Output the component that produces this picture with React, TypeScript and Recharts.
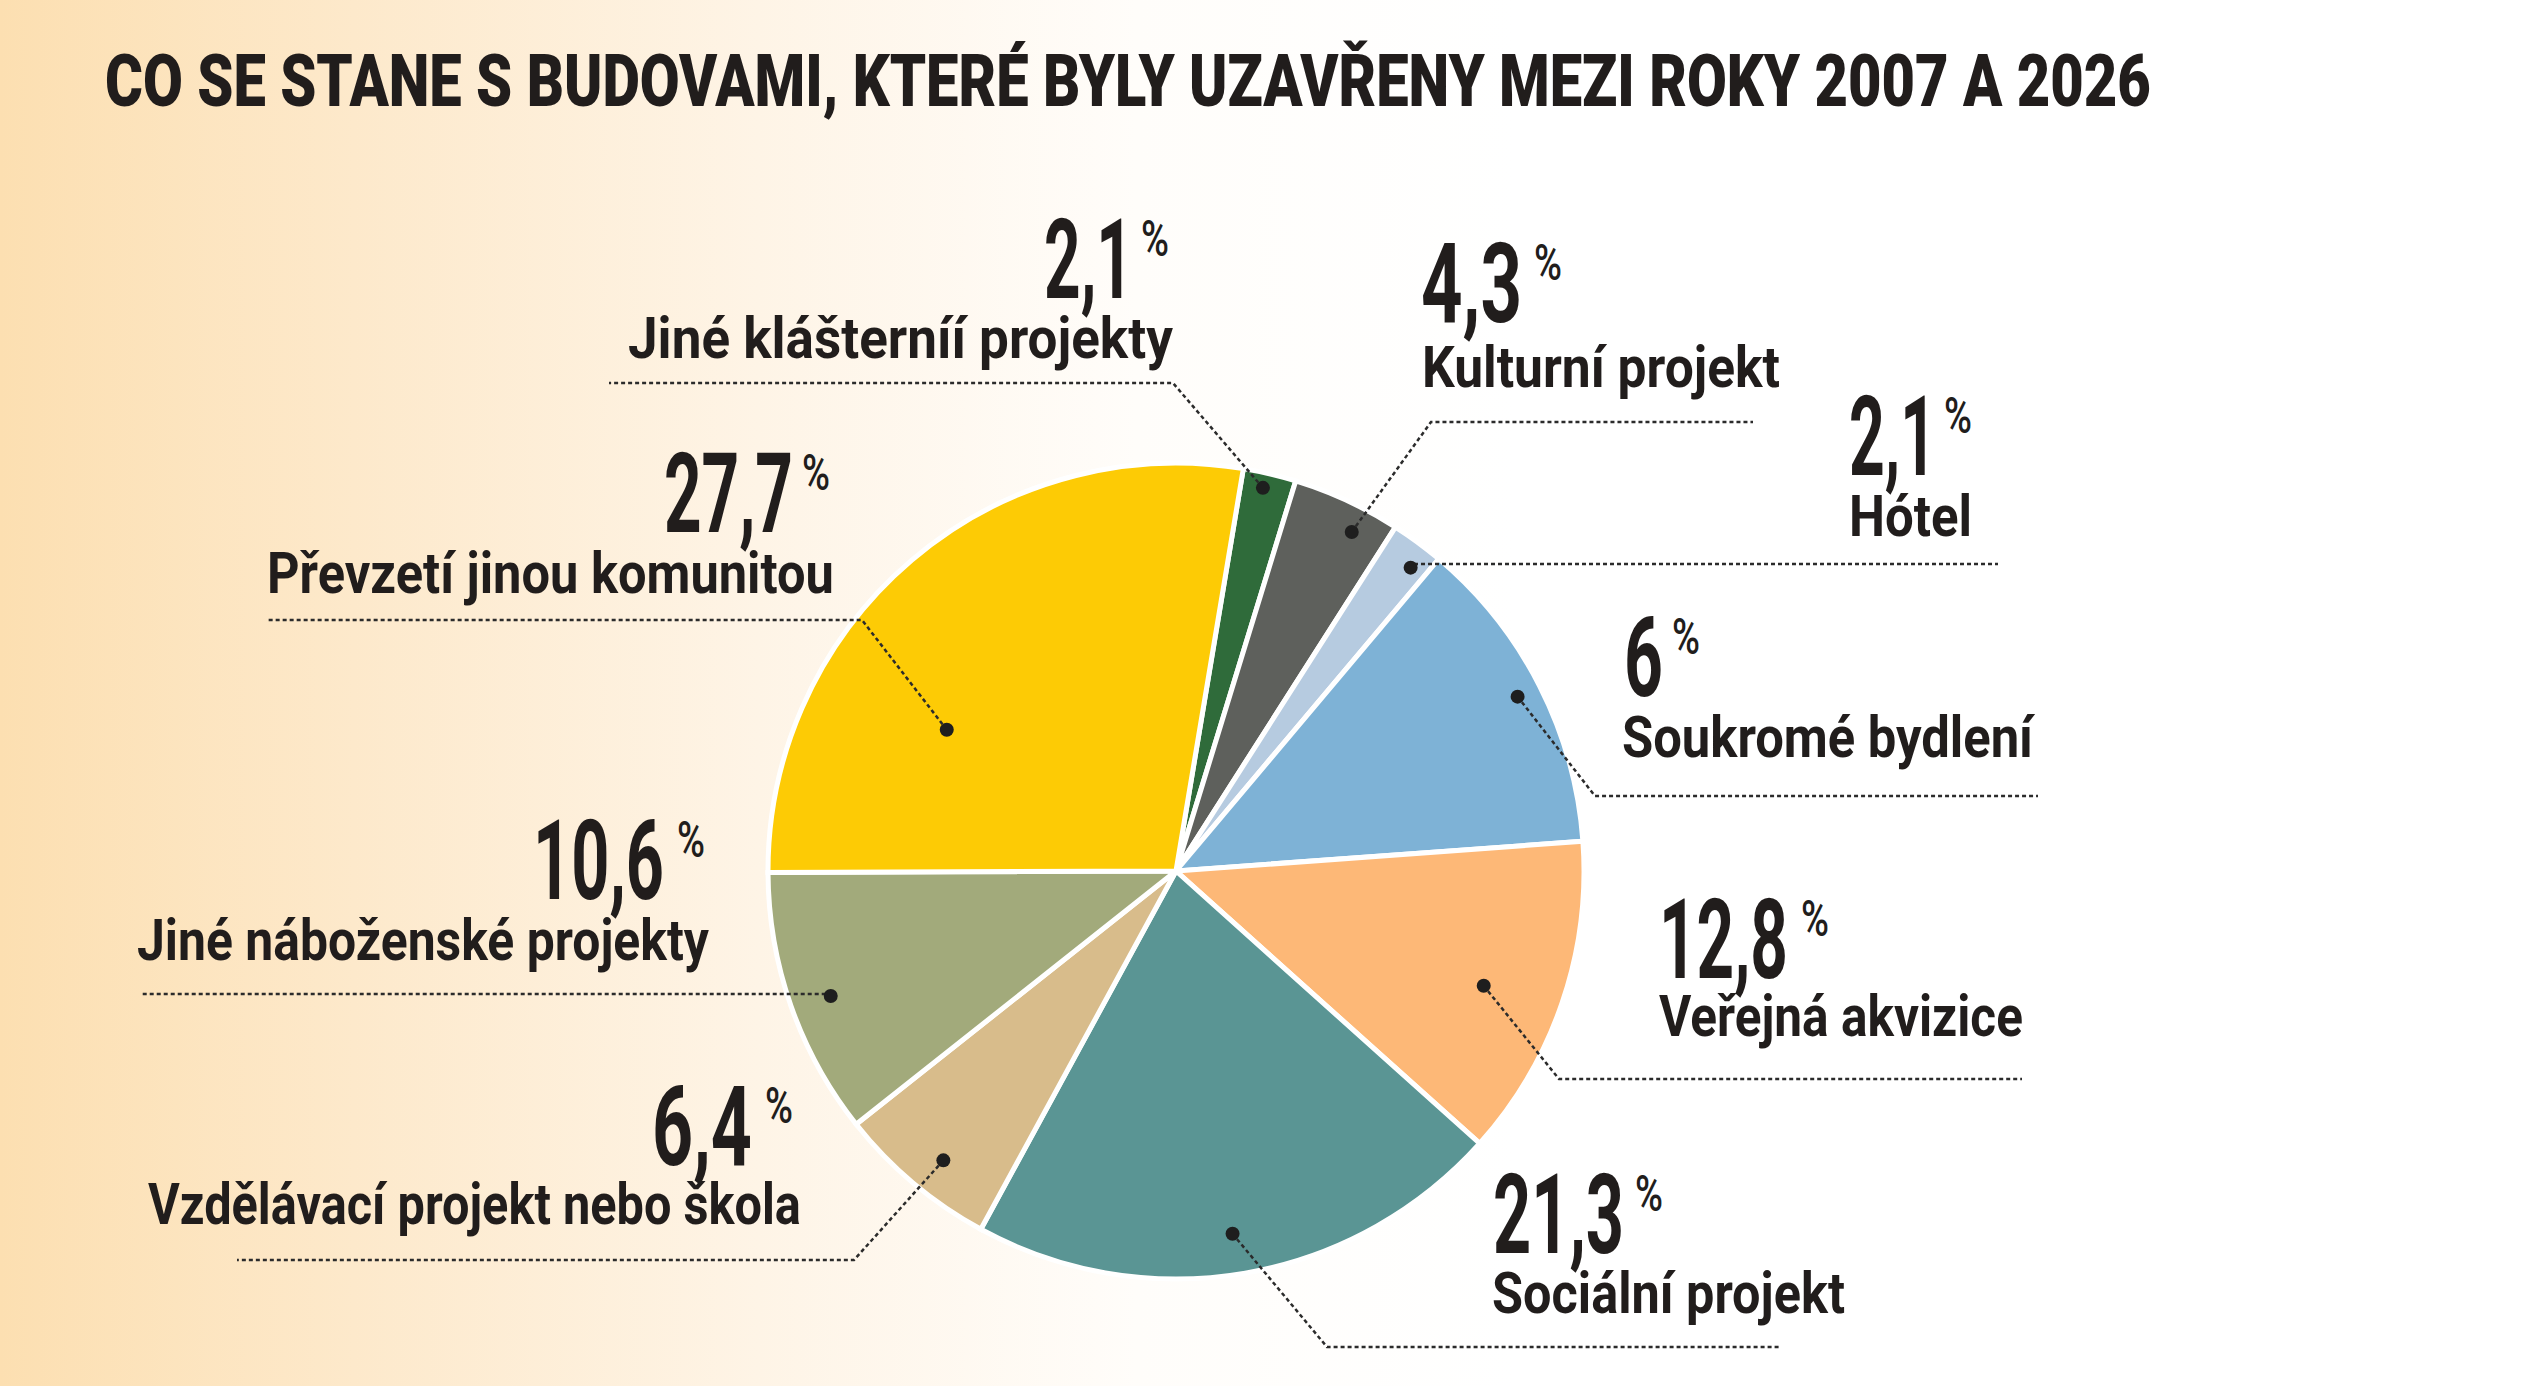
import React from 'react';
import { PieChart, Pie, Cell } from 'recharts';

// slices in clockwise order, starting at the top just right of the yellow slice
const categories = [
    'Jiné klášterníí projekty',
    'Kulturní projekt',
    'Hótel',
    'Soukromé bydlení',
    'Veřejná akvizice',
    'Sociální projekt',
    'Vzdělávací projekt nebo škola',
    'Jiné náboženské projekty',
    'Převzetí jinou komunitou',
];
// numbers as printed next to the slices
const printedValues = ['2,1', '4,3', '2,1', '6', '12,8', '21,3', '6,4', '10,6', '27,7'];
// slice shares as drawn (the blue slice is drawn ~12.7 % although its label says 6)
const sliceShares = [2.1, 4.3, 2.1, 12.7, 12.8, 21.3, 6.4, 10.6, 27.7];
const sliceColors = ['#2f6b3a', '#5e605c', '#b6cbe0', '#7eb2d6', '#fdb877', '#5a9594', '#d8bc8b', '#a2aa7b', '#fdcb05'];

const TITLE = 'CO SE STANE S BUDOVAMI, KTERÉ BYLY UZAVŘENY MEZI ROKY 2007 A 2026';

// label layout (page pixels): number, % sign, name, dashed leader
const labelLayout = [
    { numX: 1044, numW: 89, numBase: 298, pctX: 1141, nameX: 628, nameW: 545, nameBase: 358, lineY: 383, elbow: 1173, far: 609, rf: 0.963, shift: 0.5 },
    { numX: 1421, numW: 101, numBase: 322, pctX: 1534, nameX: 1422, nameW: 358, nameBase: 387, lineY: 422, elbow: 1431, far: 1753, rf: 0.936, shift: -2.6 },
    { numX: 1849, numW: 87, numBase: 475, pctX: 1944, nameX: 1849, nameW: 123, nameBase: 536, lineY: 564, elbow: null, far: 1998, rf: 0.94, shift: -1.4 },
    { numX: 1624, numW: 39, numBase: 696, pctX: 1672, nameX: 1622, nameW: 411, nameBase: 757, lineY: 796, elbow: 1595, far: 2038, rf: 0.94, shift: 0 },
    { numX: 1659, numW: 129, numBase: 978, pctX: 1801, nameX: 1659, nameW: 364, nameBase: 1036, lineY: 1079, elbow: 1559, far: 2022, rf: 0.805, shift: -1.6 },
    { numX: 1493, numW: 131, numBase: 1253, pctX: 1635, nameX: 1492, nameW: 353, nameBase: 1313, lineY: 1347, elbow: 1327, far: 1779, rf: 0.9, shift: -0.9 },
    { numX: 652, numW: 100, numBase: 1165, pctX: 765, nameX: 148, nameW: 653, nameBase: 1224, lineY: 1260, elbow: 854, far: 237, rf: 0.91, shift: 1.3 },
    { numX: 533, numW: 131, numBase: 899, pctX: 677, nameX: 137, nameW: 572, nameBase: 960, lineY: 994, elbow: null, far: 140, rf: 0.9, shift: 0.6 },
    { numX: 664, numW: 129, numBase: 532, pctX: 802, nameX: 267, nameW: 567, nameBase: 593, lineY: 620, elbow: 862, far: 267, rf: 0.66, shift: 18 },
];

const FONT = 'Roboto, "Liberation Sans", sans-serif';
const INK = '#211d1c';

const data = categories.map((name, i) => ({ name, value: sliceShares[i] }));

// condensed look: measure the natural width and squeeze the glyphs horizontally
const measureCtx = typeof document !== 'undefined' ? document.createElement('canvas').getContext('2d') : null;
const naturalWidth = (text: string, weight: number, size: number) => {
    if (!measureCtx) return text.length * size * 0.55;
    measureCtx.font = `${weight} ${size}px Roboto`;
    return measureCtx.measureText(text).width;
};

const SqueezedText = ({ x, y, width, size, weight, children }: any) => {
    const sx = width / naturalWidth(children, weight, size);
    return (
        <text
            transform={`translate(${x} ${y}) scale(${sx} 1)`}
            fontFamily={FONT}
            fontWeight={weight}
            fontSize={size}
            fill={INK}
        >
            {children}
        </text>
    );
};

const renderLabel = (props: any) => {
    const { cx, cy, midAngle, outerRadius, index } = props;
    const L = labelLayout[index];
    const a = ((midAngle + L.shift) * Math.PI) / 180;
    const r = outerRadius * L.rf;
    const dx = cx + r * Math.cos(a);
    const dy = cy - r * Math.sin(a);
    const elbowX = L.elbow === null ? dx : L.elbow;
    return (
        <g key={`lbl-${index}`}>
            <polyline
                points={`${dx},${dy} ${elbowX},${L.lineY} ${L.far},${L.lineY}`}
                fill="none"
                stroke="#2b2b2b"
                strokeWidth={2.5}
                strokeDasharray="4 3"
            />
            <circle cx={dx} cy={dy} r={7} fill="#1e1e1e" />
            <SqueezedText x={L.numX} y={L.numBase} width={L.numW} size={112} weight={700}>
                {printedValues[index]}
            </SqueezedText>
            <SqueezedText x={L.pctX} y={L.numBase - 42} width={28} size={50} weight={500}>
                %
            </SqueezedText>
            <SqueezedText x={L.nameX} y={L.nameBase} width={L.nameW} size={58} weight={700}>
                {categories[index]}
            </SqueezedText>
        </g>
    );
};

export default function App() {
    return (
        <div
            style={{
                position: 'absolute',
                left: 0,
                top: 0,
                width: 2526,
                height: 1386,
                overflow: 'hidden',
                background: 'linear-gradient(to right, #fcdfb1 0%, #fde9cb 14%, #fef4e6 30%, #fffdfa 45%, #ffffff 60%)',
            }}
        >
            <svg width={2526} height={140} style={{ position: 'absolute', left: 0, top: 0 }}>
                <SqueezedText x={105} y={106} width={2046} size={72} weight={900}>
                    {TITLE}
                </SqueezedText>
            </svg>
            <div style={{ position: 'absolute', left: 0, top: 0 }}>
                <PieChart width={2526} height={1386}>
                    <Pie
                        data={data}
                        dataKey="value"
                        nameKey="name"
                        cx={1171}
                        cy={866}
                        outerRadius={408}
                        startAngle={80.5}
                        endAngle={-279.5}
                        stroke="#ffffff"
                        strokeWidth={5}
                        label={renderLabel}
                        labelLine={false}
                        isAnimationActive={false}
                    >
                        {data.map((d, i) => (
                            <Cell key={d.name} fill={sliceColors[i]} />
                        ))}
                    </Pie>
                </PieChart>
            </div>
        </div>
    );
}
